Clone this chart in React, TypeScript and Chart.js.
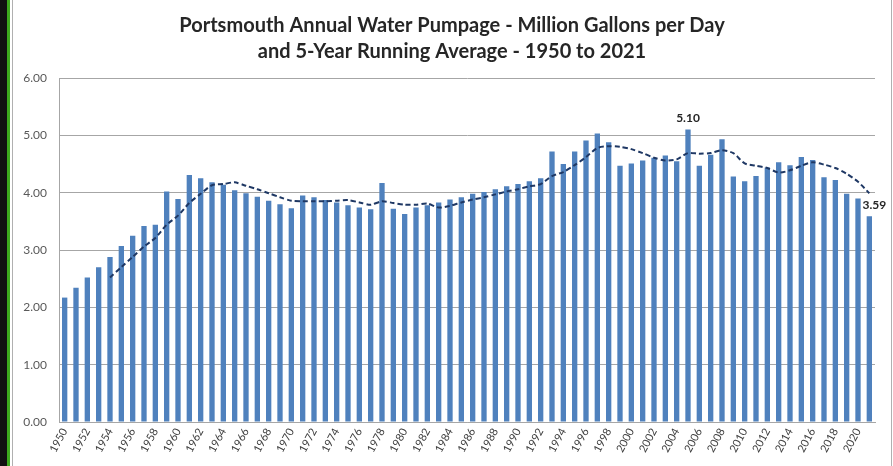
import React, { useEffect, useRef } from "react";
import { Chart, registerables } from "chart.js";

Chart.register(...registerables);

const titleLines = [
  "Portsmouth Annual Water Pumpage - Million Gallons per Day",
  "and 5-Year Running Average - 1950 to 2021",
];

const years = [
  "1950", "1951", "1952", "1953", "1954", "1955", "1956", "1957", "1958", "1959",
  "1960", "1961", "1962", "1963", "1964", "1965", "1966", "1967", "1968", "1969",
  "1970", "1971", "1972", "1973", "1974", "1975", "1976", "1977", "1978", "1979",
  "1980", "1981", "1982", "1983", "1984", "1985", "1986", "1987", "1988", "1989",
  "1990", "1991", "1992", "1993", "1994", "1995", "1996", "1997", "1998", "1999",
  "2000", "2001", "2002", "2003", "2004", "2005", "2006", "2007", "2008", "2009",
  "2010", "2011", "2012", "2013", "2014", "2015", "2016", "2017", "2018", "2019",
  "2020", "2021",
];

const pumpage = [
  2.17, 2.34, 2.52, 2.7, 2.88, 3.07, 3.25, 3.42, 3.44, 4.02,
  3.89, 4.31, 4.25, 4.18, 4.14, 4.04, 3.99, 3.93, 3.86, 3.8,
  3.73, 3.95, 3.92, 3.87, 3.83, 3.78, 3.74, 3.71, 4.17, 3.72,
  3.63, 3.74, 3.78, 3.83, 3.88, 3.92, 3.98, 4.01, 4.06, 4.11,
  4.15, 4.2, 4.25, 4.72, 4.5, 4.72, 4.91, 5.03, 4.88, 4.47,
  4.51, 4.56, 4.61, 4.65, 4.55, 5.1, 4.47, 4.66, 4.93, 4.28,
  4.2, 4.29, 4.44, 4.53, 4.48, 4.62, 4.57, 4.27, 4.22, 3.98,
  3.9, 3.59,
];

const runningAvg = [
  null, null, null, null, 2.52, 2.7, 2.88, 3.06, 3.21, 3.44,
  3.6, 3.82, 3.98, 4.13, 4.15, 4.18, 4.12, 4.06, 3.99, 3.92,
  3.86, 3.85, 3.85, 3.85, 3.86, 3.87, 3.83, 3.79, 3.85, 3.82,
  3.79, 3.79, 3.81, 3.74, 3.77, 3.83, 3.88, 3.92, 3.97, 4.02,
  4.06, 4.11, 4.15, 4.29, 4.36, 4.48, 4.62, 4.78, 4.81, 4.8,
  4.76, 4.69, 4.61, 4.56, 4.58, 4.69, 4.68, 4.69, 4.74, 4.69,
  4.51, 4.47, 4.43, 4.35, 4.39, 4.47, 4.53, 4.49, 4.43, 4.33,
  4.19, 3.99,
];

const xTickLabels = [
  "1950", "1952", "1954", "1956", "1958", "1960", "1962", "1964", "1966", "1968",
  "1970", "1972", "1974", "1976", "1978", "1980", "1982", "1984", "1986", "1988",
  "1990", "1992", "1994", "1996", "1998", "2000", "2002", "2004", "2006", "2008",
  "2010", "2012", "2014", "2016", "2018", "2020",
];

const yTicks = [0, 1, 2, 3, 4, 5, 6];

const labelYears = ["2005", "2021"];
const labelTexts = ["5.10", "3.59"];

const overlayPlugin = {
  id: "overlay",
  afterDraw(chart: any) {
    const ctx = chart.ctx;
    ctx.save();
    ctx.fillStyle = "#262626";
    ctx.font = "bold 20px Lato";
    ctx.textAlign = "center";
    ctx.textBaseline = "alphabetic";
    ctx.fillText(titleLines[0], 452, 32);
    ctx.fillText(titleLines[1], 452, 58);

    const meta = chart.getDatasetMeta(1);
    ctx.font = "bold 12px Lato";
    labelYears.forEach((yr, k) => {
      const idx = years.indexOf(yr);
      const el = meta.data[idx];
      if (!el) return;
      if (k === 0) {
        ctx.textAlign = "center";
        ctx.textBaseline = "bottom";
        ctx.fillText(labelTexts[k], el.x, el.y - 5);
      } else {
        ctx.textAlign = "center";
        ctx.textBaseline = "middle";
        ctx.fillText(labelTexts[k], el.x + 5, el.y - 11);
      }
    });
    ctx.restore();
  },
};

export default function App() {
  const ref = useRef<HTMLCanvasElement>(null);

  useEffect(() => {
    if (!ref.current) return;
    const chart = new Chart(ref.current, {
      type: "bar",
      data: {
        labels: years,
        datasets: [
          {
            type: "line",
            label: "5-Year Running Average",
            data: runningAvg,
            borderColor: "#1F3864",
            borderWidth: 2,
            borderDash: [5, 3],
            pointRadius: 0,
            tension: 0.25,
            fill: false,
            order: 0,
          } as any,
          {
            type: "bar",
            label: "Annual Pumpage",
            data: pumpage,
            backgroundColor: "#4F81BD",
            categoryPercentage: 1,
            barPercentage: 0.47,
            order: 1,
          },
        ],
      },
      options: {
        responsive: false,
        animation: false,
        layout: { padding: { left: 0, right: 18, top: 78, bottom: 0 } },
        plugins: {
          legend: { display: false },
          tooltip: { enabled: false },
          title: { display: false },
        },
        scales: {
          x: {
            grid: { display: false, drawTicks: false },
            border: { display: true, color: "#A6A6A6", width: 1 },
            afterFit: (s: any) => {
              s.height = 44;
            },
            ticks: {
              autoSkip: false,
              minRotation: 62,
              maxRotation: 62,
              padding: 4,
              color: "#404040",
              font: { family: "Lato", size: 11 },
              callback: (_v: any, i: number) =>
                xTickLabels.includes(years[i]) ? years[i] : "",
            },
          },
          y: {
            min: yTicks[0],
            max: yTicks[yTicks.length - 1],
            afterFit: (s: any) => {
              s.width = 59;
            },
            grid: { color: "#A6A6A6", lineWidth: 1, drawTicks: false },
            border: { display: true, color: "#A6A6A6", width: 1 },
            ticks: {
              stepSize: 1,
              padding: 12,
              color: "#595959",
              font: { family: "Lato", size: 12 },
              callback: (v: any) => Number(v).toFixed(2),
            },
          },
        },
      },
      plugins: [overlayPlugin],
    });
    return () => chart.destroy();
  }, []);

  return (
    <div
      style={{
        position: "fixed",
        left: 0,
        top: 0,
        width: 893,
        height: 466,
        background: "#fff",
        overflow: "hidden",
      }}
    >
      <canvas
        ref={ref}
        width={893}
        height={466}
        style={{ position: "absolute", left: 0, top: 0, width: 893, height: 466 }}
      />
      <div style={{ position: "absolute", left: 0, top: 0, width: 7, height: 466, background: "#111" }} />
      <div style={{ position: "absolute", left: 7, top: 0, width: 3, height: 466, background: "#3DAA1E" }} />
      <div style={{ position: "absolute", left: 12, top: 0, width: 1, height: 466, background: "#B0B0B0" }} />
      <div style={{ position: "absolute", left: 891, top: 0, width: 1, height: 466, background: "#B0B0B0" }} />
    </div>
  );
}
